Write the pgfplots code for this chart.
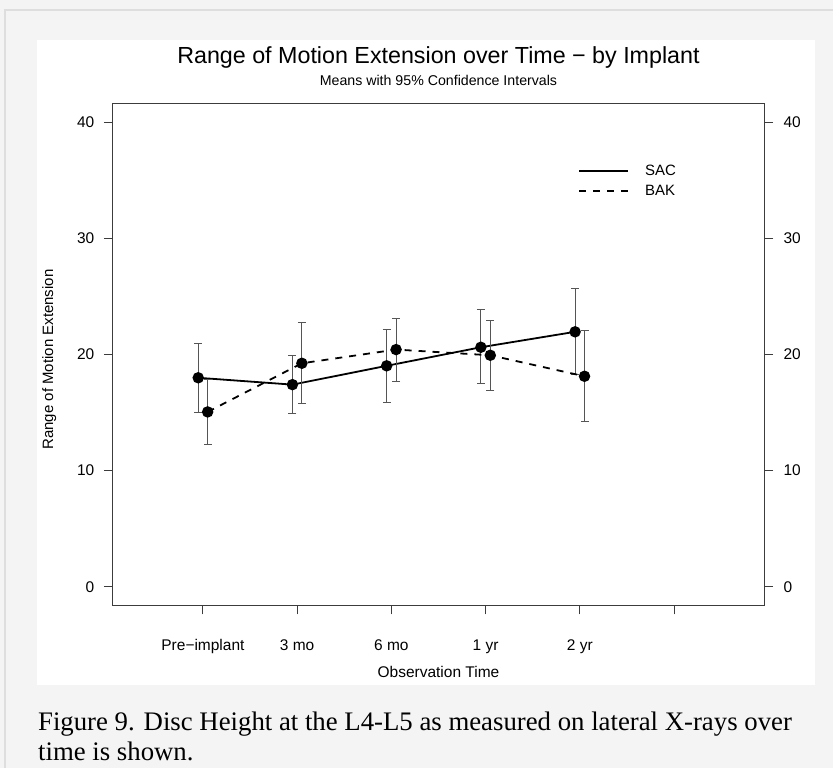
\documentclass[border=0pt]{standalone}
\usepackage{pgfplots}
\pgfplotsset{compat=1.18}
\usepackage{pgfplotstable}
\usepackage{fontspec}
\setmainfont{Liberation Sans}
\newfontfamily\capfont{Liberation Serif}

\definecolor{pagebg}{HTML}{F4F4F4}
\definecolor{pageedge}{HTML}{DEDEDE}
\definecolor{barcol}{HTML}{555555}
\definecolor{axcol}{HTML}{3C3C3C}

% means and 95% CI half-widths (upper / lower)
\pgfplotstableread{
x     y      ep    em
0.95  18.00  2.92  3.00
1.95  17.41  2.50  2.50
2.95  19.03  3.10  3.14
3.95  20.63  3.22  3.16
4.95  21.96  3.73  3.66
}\sac
\pgfplotstableread{
x     y      ep    em
1.05  15.06  2.79  2.79
2.05  19.25  3.51  3.47
3.05  20.43  2.67  2.73
4.05  19.94  3.02  3.04
5.05  18.13  3.91  3.93
}\bak

\pgfplotsset{
  romframe/.style={
    at={(113pt,163pt)}, anchor=south west,
    scale only axis, width=652pt, height=502pt,
    xmin=0.044, xmax=6.956, ymin=-1.6, ymax=41.6,
    ytick={0,10,20,30,40},
    tick align=outside, major tick length=9pt,
    axis line style={axcol, line width=0.9pt},
    tick style={axcol, line width=0.9pt},
    tick label style={font=\fontsize{15.5}{17}\selectfont},
    /pgf/number format/assume math mode=true,
  },
  cibars/.style={
    error bars/.cd, y dir=both, y explicit,
    error bar style={solid, barcol, line width=1.1pt},
    error mark options={solid, barcol, line width=1.1pt, mark size=4pt, rotate=90},
  },
}

\begin{document}
\begin{tikzpicture}[x=1pt,y=1pt]
\fill[pagebg] (0,0) rectangle (834,769);
\draw[pageedge, line width=2pt] (5,0) -- (5,759) -- (834,759);
\fill[white] (37,83) rectangle (816,729);

\node[anchor=base, font=\fontsize{23.3}{26}\selectfont] at (439,705)
  {Range of Motion Extension over Time − by Implant};
\node[anchor=base, font=\fontsize{14.2}{16}\selectfont] at (439,683)
  {Means with 95\% Confidence Intervals};
\node[anchor=base, font=\fontsize{15.5}{17}\selectfont] at (439,91)
  {Observation Time};
\node[anchor=base, rotate=90, font=\fontsize{15}{17}\selectfont] at (53.3,409)
  {Range of Motion Extension};

\begin{axis}[romframe,
  xtick={1,2,3,4,5,6},
  xticklabels={Pre−implant,3 mo,6 mo,1 yr,2 yr,{}},
  xtick pos=left, ytick pos=left,
  xticklabel style={yshift=-22pt},
  yticklabel style={xshift=-6pt},
  legend style={draw=none, fill=none, inner sep=0pt,
    at={(axis description cs:0.7147,0.8466)}, anchor=west,
    font=\fontsize{15}{17}\selectfont, row sep=4pt, column sep=14pt},
  legend cell align=left,
  legend image code/.code={\draw (0pt,0pt) -- (49pt,0pt);},
]
\addplot[black, line width=1.8pt, mark=*, mark size=4.8pt,
  mark options={solid, fill=black}, cibars]
  table[x=x, y=y, y error plus=ep, y error minus=em]{\sac};
\addlegendentry{SAC}
\addplot[black, line width=1.8pt, dash pattern=on 7pt off 7pt,
  mark=*, mark size=4.8pt, mark options={solid, fill=black}, cibars]
  table[x=x, y=y, y error plus=ep, y error minus=em]{\bak};
\addlegendentry{BAK}
\end{axis}

\begin{axis}[romframe, hide x axis, axis y line*=right,
  yticklabel style={xshift=7pt}]
\addplot[draw=none] coordinates {(1,0)};
\end{axis}

\node[anchor=base west, inner sep=0pt, font=\capfont\fontsize{26.8}{30}\selectfont] at (38,38)
  {Figure 9. Disc Height at the L4-L5 as measured on lateral X-rays over};
\node[anchor=base west, inner sep=0pt, font=\capfont\fontsize{26.8}{30}\selectfont] at (38,8)
  {time is shown.};
\end{tikzpicture}
\end{document}
